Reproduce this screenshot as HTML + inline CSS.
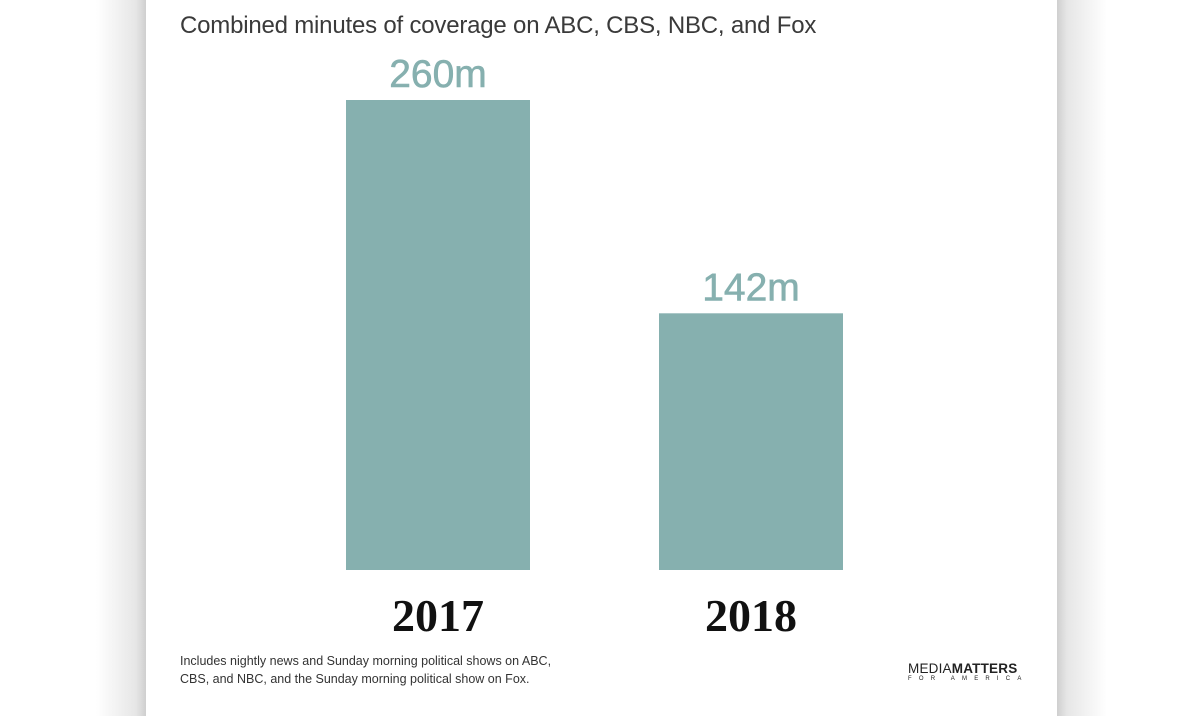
<!DOCTYPE html>
<html><head><meta charset="utf-8"><style>
body{margin:0;width:1200px;height:716px;background:#fff;position:relative;overflow:hidden;font-family:"Liberation Sans",sans-serif}
#lsh{position:absolute;left:96px;top:0;width:50px;height:716px;background:linear-gradient(to right,#fff,#e6e6e6 80%,#cfcfcf)}
#rsh{position:absolute;left:1057px;top:0;width:50px;height:716px;background:linear-gradient(to left,#fff,#e6e6e6 80%,#cfcfcf)}
#card{position:absolute;left:146px;top:0;width:911px;height:716px;background:#fff}
.t{position:absolute;white-space:nowrap}
</style></head><body>
<div id="lsh"></div>
<div id="rsh"></div>
<div id="card"></div>
<div class="t" style="left:180px;top:12px;font-size:24px;font-weight:300;color:#3a3a3a;letter-spacing:-0.2px">Combined minutes of coverage on ABC, CBS, NBC, and Fox</div>
<svg id="chart" width="1200" height="716" style="position:absolute;left:0;top:0"></svg>
<div class="t" style="left:180px;top:652px;font-size:12.5px;line-height:18px;color:#333">Includes nightly news and Sunday morning political shows on ABC,<br>CBS, and NBC, and the Sunday morning political show on Fox.</div>
<div class="t" style="left:908px;top:662px;color:#222">
<div style="font-size:13.5px;letter-spacing:0.2px;line-height:13px">MEDIA<b>MATTERS</b></div>
<div style="font-size:6px;letter-spacing:7.2px;line-height:8px">FOR AMERICA</div></div>
<script>
const categories=["2017","2018"];
const values=[260,142];
const valueLabels=["260m","142m"];
const svg=document.getElementById('chart');
const NS='http://www.w3.org/2000/svg';
const base=570,top0=100,vmax=260;
function y(v){return base-(v/vmax)*(base-top0);}
const xs=[346,659],bw=184;
function x(i){return xs[0]+i*(xs[1]-xs[0]);}
categories.forEach((c,i)=>{
 const r=document.createElementNS(NS,'rect');
 r.setAttribute('x',x(i));r.setAttribute('y',y(values[i]));r.setAttribute('width',bw);r.setAttribute('height',base-y(values[i]));r.setAttribute('fill','#86b0af');
 
 
 svg.appendChild(r);
 const l=document.createElementNS(NS,'text');
 l.setAttribute('x',x(i)+bw/2);l.setAttribute('y',y(values[i])-13);l.setAttribute('text-anchor','middle');
 l.setAttribute('font-size','39');l.setAttribute('fill','#86b0af');l.setAttribute('font-family','Liberation Sans, sans-serif');
 l.setAttribute('stroke','#86b0af');l.setAttribute('stroke-width','0.6');
 l.textContent=valueLabels[i];
 
 
 svg.appendChild(l);
 const t=document.createElementNS(NS,'text');
 t.setAttribute('x',x(i)+bw/2);t.setAttribute('y',631);t.setAttribute('text-anchor','middle');
 t.setAttribute('font-size','46');t.setAttribute('font-weight','bold');t.setAttribute('fill','#111');t.setAttribute('font-family','Liberation Serif, serif');
 t.textContent=c;
 
 
 svg.appendChild(t);
});
</script>
</body></html>
